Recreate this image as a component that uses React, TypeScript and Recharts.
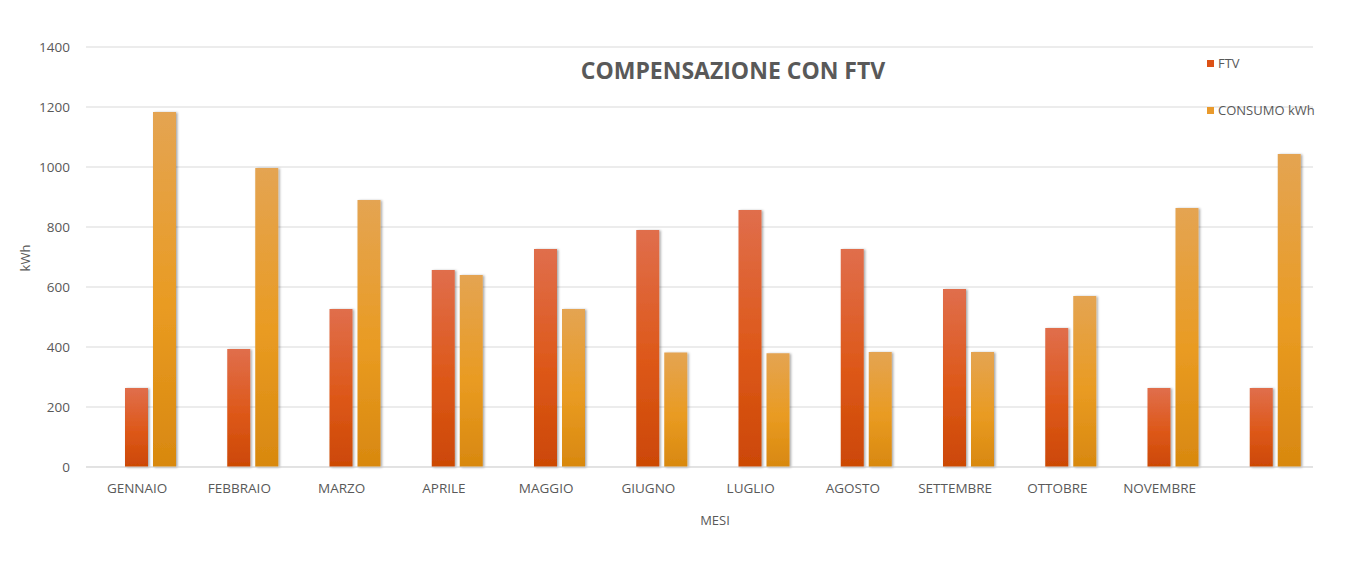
import { Bar, BarChart, CartesianGrid, XAxis, YAxis } from "recharts"

const MONTHS = [
  "GENNAIO",
  "FEBBRAIO",
  "MARZO",
  "APRILE",
  "MAGGIO",
  "GIUGNO",
  "LUGLIO",
  "AGOSTO",
  "SETTEMBRE",
  "OTTOBRE",
  "NOVEMBRE",
  "",
]
const FTV = [263, 393, 527, 657, 727, 790, 857, 727, 593, 463, 263, 263]
const CONSUMO = [1183, 997, 890, 640, 527, 382, 379, 383, 383, 570, 863, 1043]
const Y_TICKS = [0, 200, 400, 600, 800, 1000, 1200, 1400]

const TEXT = "#595959"
const FONT = "'Open Sans', sans-serif"

const data = MONTHS.map((mese, i) => ({ mese, ftv: FTV[i], consumo: CONSUMO[i] }))

const legendItems = [
  { label: "FTV", color: "#dc5115", top: 55 },
  { label: "CONSUMO kWh", color: "#e99a2c", top: 102 },
]

export default function App() {
  return (
    <div
      style={{
        position: "absolute",
        left: 0,
        top: 0,
        width: 1359,
        height: 571,
        background: "#fff",
        fontFamily: FONT,
      }}
    >
      <BarChart
        width={1359}
        height={571}
        data={data}
        margin={{ top: 47, right: 46, bottom: 74, left: 0 }}
        barCategoryGap={11}
        barGap={5}
      >
        <defs>
          <linearGradient id="gradFtv" x1="0" y1="0" x2="0" y2="1">
            <stop offset="0%" stopColor="#e06e4c" />
            <stop offset="55%" stopColor="#dd5819" />
            <stop offset="100%" stopColor="#cc4805" />
          </linearGradient>
          <linearGradient id="gradConsumo" x1="0" y1="0" x2="0" y2="1">
            <stop offset="0%" stopColor="#e4a452" />
            <stop offset="55%" stopColor="#e99b22" />
            <stop offset="100%" stopColor="#d8880f" />
          </linearGradient>
          <filter id="ombra" x="-20%" y="-5%" width="150%" height="110%">
            <feDropShadow dx="1.5" dy="0.5" stdDeviation="1.2" floodColor="#000" floodOpacity="0.35" />
          </filter>
        </defs>
        <CartesianGrid vertical={false} stroke="#d9d9d9" />
        <XAxis
          dataKey="mese"
          height={30}
          axisLine={{ stroke: "#d9d9d9" }}
          tickLine={false}
          tickSize={0}
          tickMargin={16}
          tick={{ fill: TEXT, fontSize: 13.5, fontFamily: FONT }}
          interval={0}
        />
        <YAxis
          width={86}
          domain={[0, 1400]}
          ticks={Y_TICKS}
          axisLine={false}
          tickLine={false}
          tickSize={0}
          tickMargin={16}
          tick={{ fill: TEXT, fontSize: 13.5, fontFamily: FONT }}
        />
        <Bar dataKey="vuoto" legendType="none" isAnimationActive={false} />
        <Bar dataKey="ftv" name="FTV" fill="url(#gradFtv)" filter="url(#ombra)" isAnimationActive={false} />
        <Bar
          dataKey="consumo"
          name="CONSUMO kWh"
          fill="url(#gradConsumo)"
          filter="url(#ombra)"
          isAnimationActive={false}
        />
      </BarChart>

      <div
        style={{
          position: "absolute",
          left: 0,
          width: 1466,
          top: 53,
          textAlign: "center",
          fontSize: 23,
          fontWeight: 700,
          color: TEXT,
          lineHeight: "34px",
        }}
      >
        COMPENSAZIONE CON FTV
      </div>

      {legendItems.map((item) => (
        <div
          key={item.label}
          style={{
            position: "absolute",
            left: 1207,
            top: item.top,
            display: "flex",
            alignItems: "center",
            fontSize: 13,
            color: TEXT,
            lineHeight: "16px",
          }}
        >
          <span style={{ width: 7, height: 7, background: item.color, marginRight: 4 }} />
          {item.label}
        </div>
      ))}

      <div
        style={{
          position: "absolute",
          left: 715,
          top: 511,
          transform: "translateX(-50%)",
          fontSize: 13,
          color: TEXT,
        }}
      >
        MESI
      </div>
      <div
        style={{
          position: "absolute",
          left: 25,
          top: 258,
          transform: "translate(-50%, -50%) rotate(-90deg)",
          fontSize: 13,
          color: TEXT,
        }}
      >
        kWh
      </div>
    </div>
  )
}
